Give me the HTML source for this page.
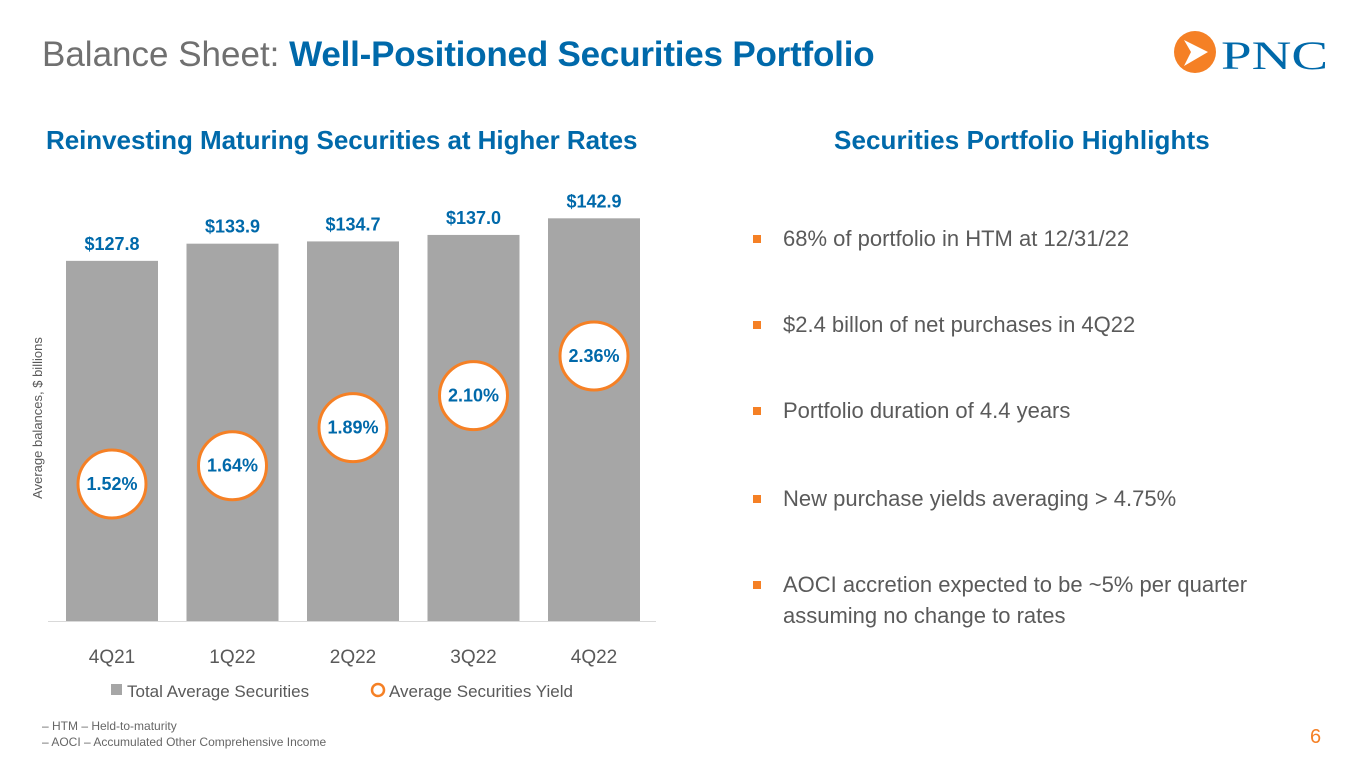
<!DOCTYPE html>
<html><head><meta charset="utf-8"><style>
body{margin:0;width:1365px;height:768px;background:#fff;font-family:"Liberation Sans",sans-serif;position:relative;overflow:hidden}
.a{position:absolute;white-space:nowrap}
.t{color:#0069aa}
.b{position:absolute;left:756px;font-size:22px;color:#5a5a5a}
.b:before{content:"";position:absolute;left:-3px;top:8px;width:8px;height:8px;background:#f58025}
.b span{position:absolute;left:27px;white-space:nowrap;line-height:31px;top:-4px}
</style></head><body>
<div class="a" style="left:42px;top:35px;font-size:35px;color:#707070">Balance Sheet: <b class="t" style="font-size:35px;letter-spacing:-0.2px">Well-Positioned Securities Portfolio</b></div>
<svg class="a" style="left:1170px;top:28px" width="165" height="54">
<circle cx="25" cy="24" r="21" fill="#f58025"/><polygon points="14,12 38,24 14,38 21,24" fill="#fff"/>
<text x="51" y="41" font-family="Liberation Serif" font-size="40" fill="#0069aa" textLength="107" lengthAdjust="spacingAndGlyphs">PNC</text></svg>
<div class="a t" style="left:46px;top:125px;font-size:26px;font-weight:bold;letter-spacing:-0.05px">Reinvesting Maturing Securities at Higher Rates</div>
<div class="a t" style="left:834px;top:125px;font-size:26px;font-weight:bold;letter-spacing:0.1px">Securities Portfolio Highlights</div>
<svg class="a" style="left:0;top:0" width="700" height="720" id="ch"></svg>
<div class="b" style="top:227px"><span>68% of portfolio in HTM at 12/31/22</span></div>
<div class="b" style="top:313px"><span>$2.4 billon of net purchases in 4Q22</span></div>
<div class="b" style="top:399px"><span>Portfolio duration of 4.4 years</span></div>
<div class="b" style="top:487px"><span>New purchase yields averaging &gt; 4.75%</span></div>
<div class="b" style="top:573px"><span>AOCI accretion expected to be ~5% per quarter<br>assuming no change to rates</span></div>
<div class="a" style="left:42px;top:718px;font-size:12px;color:#666;line-height:16px">– HTM – Held-to-maturity<br>– AOCI – Accumulated Other Comprehensive Income</div>
<div class="a" style="left:1310px;top:726px;font-size:20px;color:#f58025">6</div>
<script>
const categories=["4Q21","1Q22","2Q22","3Q22","4Q22"];
const balances=[127.8,133.9,134.7,137.0,142.9];
const yields=[1.52,1.64,1.89,2.10,2.36];
const NS="http://www.w3.org/2000/svg",svg=document.getElementById('ch');
const base=621,x=i=>112+i*120.5,yb=v=>base-v*2.818,yy=v=>484-(v-1.52)*152.4;
function mk(t,a,txt){const e=document.createElementNS(NS,t);for(const k in a)e.setAttribute(k,a[k]);if(txt!=null)e.textContent=txt;svg.appendChild(e);return e;}
let ln=mk('line',{x1:48,x2:656,y1:base+0.5,y2:base+0.5,stroke:'#d9d9d9'});


categories.forEach((c,i)=>{
 let r=mk('rect',{x:x(i)-46,y:yb(balances[i]),width:92,height:balances[i]*2.818,fill:'#a6a6a6'});
 
 
 let l=mk('text',{x:x(i),y:yb(balances[i])-11,'text-anchor':'middle','font-size':18,'font-weight':'bold',fill:'#0069aa'},'$'+balances[i].toFixed(1));
 
 
 let t=mk('text',{x:x(i),y:663,'text-anchor':'middle','font-size':19,fill:'#595959'},c);
 
 
 let ci=mk('circle',{cx:x(i),cy:yy(yields[i]),r:34,fill:'#fff',stroke:'#f58025','stroke-width':3});
 
 
 let yt=mk('text',{x:x(i),y:yy(yields[i])+6,'text-anchor':'middle','font-size':18,'font-weight':'bold',fill:'#0069aa'},yields[i].toFixed(2)+'%');
 
 
});
let ya=mk('text',{transform:'translate(42,418) rotate(-90)','text-anchor':'middle','font-size':13,fill:'#595959'},'Average balances, $ billions');


let lg1=mk('rect',{x:111,y:684,width:11,height:11,fill:'#a6a6a6'});


let lt1=mk('text',{x:127,y:697,'font-size':17,fill:'#595959'},'Total Average Securities');


let lg2=mk('circle',{cx:378,cy:690,r:6,fill:'none',stroke:'#f58025','stroke-width':2.5});


let lt2=mk('text',{x:389,y:697,'font-size':17,fill:'#595959'},'Average Securities Yield');


</script>
</body></html>
